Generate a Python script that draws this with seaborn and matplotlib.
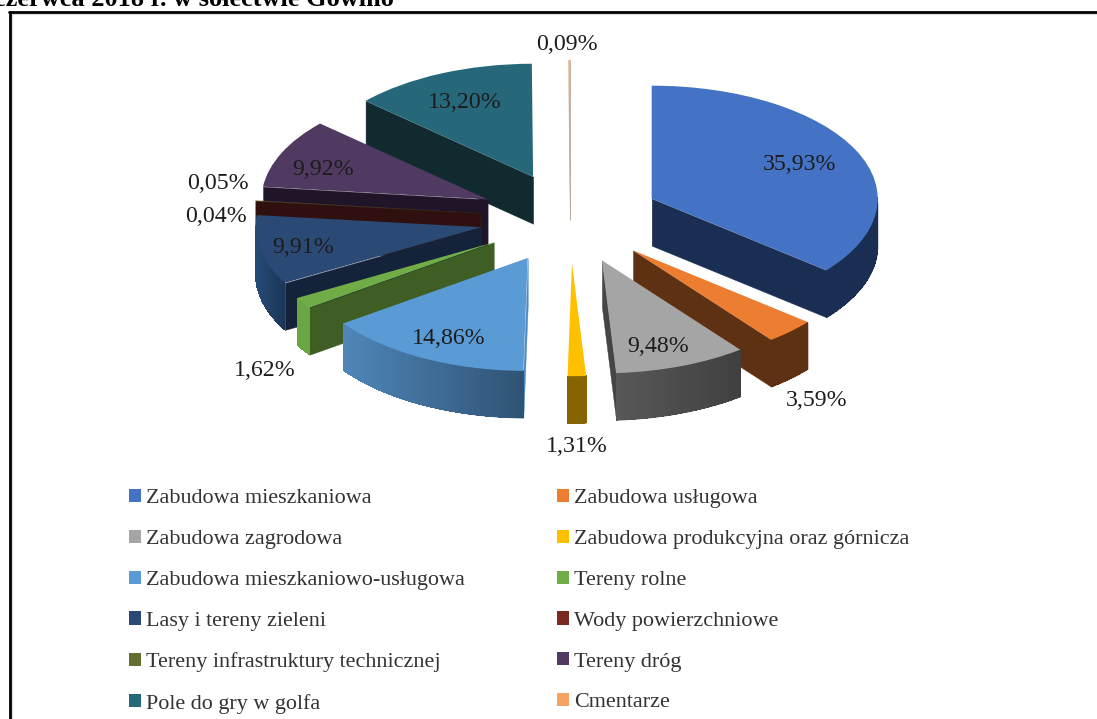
import numpy as np
import matplotlib
matplotlib.use("Agg")
import matplotlib.pyplot as plt
import seaborn as sns
from matplotlib.collections import PolyCollection
from matplotlib.colors import LinearSegmentedColormap
from matplotlib.lines import Line2D

# ---- data ----
categories = ["Zabudowa mieszkaniowa", "Zabudowa usługowa", "Zabudowa zagrodowa",
              "Zabudowa produkcyjna oraz górnicza", "Zabudowa mieszkaniowo-usługowa",
              "Tereny rolne", "Lasy i tereny zieleni", "Wody powierzchniowe",
              "Tereny infrastruktury technicznej", "Tereny dróg",
              "Pole do gry w golfa", "Cmentarze"]
values = [35.93, 3.59, 9.48, 1.31, 14.86, 1.62, 9.91, 0.04, 0.05, 9.92, 13.20, 0.09]
value_labels = ["35,93%", "3,59%", "9,48%", "1,31%", "14,86%", "1,62%",
                "9,91%", "0,04%", "0,05%", "9,92%", "13,20%", "0,09%"]
title_text = "czerwca 2018 r. w sołectwie Gowino"

# ---- styles ----
top_colors = ["#4472c4", "#ed7d31", "#a5a5a5", "#ffc000", "#5b9bd5", "#70ad47",
              "#2a4a75", "#7a2a22", "#636e2f", "#503a62", "#26687a", "#f4a460"]
cut_colors = ["#1a2d52", "#5f3113", "#454545", "#866500", "#4f8ac0", "#3e5e24",
              "#14233a", "#30100e", "#3a4218", "#1f1428", "#112a30", "#b9a596"]
rim_left = ["#1a2d52", "#5f3113", "#585858", "#866500", "#4f86b8", "#6aa643",
            "#264a78", "#30100e", "#3a4218", "#1f1428", "#112a30", "#b9a596"]
rim_right = ["#1a2d52", "#5f3113", "#404040", "#866500", "#2f5375", "#6aa643",
             "#1b3658", "#30100e", "#3a4218", "#1f1428", "#112a30", "#b9a596"]
label_px = [(800, 165), (817, 401), (658, 346), (577, 446), (449, 338), (265, 371),
            (303, 248), (216, 217), (218, 184), (323, 170), (465, 103), (567, 45)]

W, H = 1097, 719
CX, CY, RX, RY = 570, 218, 226, 113   # pie centre and radii, pixels
DEPTH = 47 / RY
SERIF = "Liberation Serif"

sns.set_theme(style="white", palette=sns.color_palette(top_colors))
plt.rcParams["font.family"] = [SERIF, "DejaVu Serif"]


def px(x, y):
    return (x - CX) / RX, (CY - y) / RY


fig = plt.figure(figsize=(W / 100, H / 100), dpi=100, facecolor="white")
ax = fig.add_axes([0, 0, 1, 1])
wedges, _ = ax.pie(values, labels=None, colors=sns.color_palette(top_colors),
                   startangle=90, counterclock=False, explode=[0.4] * len(values),
                   radius=1, wedgeprops={"linewidth": 0})
ax.set_aspect("auto")
ax.set_xlim(-CX / RX, (W - CX) / RX)
ax.set_ylim((CY - H) / RY, CY / RY)
ax.axis("off")

# painter's order: wedges further back (higher apex) first
order = sorted(range(len(wedges)), key=lambda i: -wedges[i].center[1])
for rank, i in enumerate(order):
    w = wedges[i]
    cx, cy = w.center
    t1, t2 = np.radians(w.theta1), np.radians(w.theta2)
    z = 2 + rank * 2
    p1 = (cx + np.cos(t1), cy + np.sin(t1))
    p2 = (cx + np.cos(t2), cy + np.sin(t2))
    faces = []
    if p1[0] > cx:
        faces.append(((cx, cy), p1))
    if cx > p2[0]:
        faces.append((p2, (cx, cy)))
    for a, b in faces:
        ax.add_collection(PolyCollection(
            [[a, b, (b[0], b[1] - DEPTH), (a[0], a[1] - DEPTH)]],
            facecolors=cut_colors[i], edgecolors=cut_colors[i], linewidths=0.3, zorder=z))
    # curved outer wall: a solid base with a shading along x painted over it
    th = np.linspace(t1, t2, max(3, int(np.degrees(t2 - t1)) + 2))
    th = th[np.sin(th) <= 0.02]
    if len(th) >= 2:
        cmap = LinearSegmentedColormap.from_list("rim", [rim_left[i], rim_right[i]])
        xs = cx + np.cos(th)
        ys = cy + np.sin(th)
        x0, x1 = xs.min(), xs.max()
        base = list(zip(xs, ys)) + list(zip(xs[::-1], ys[::-1] - DEPTH))
        ax.add_collection(PolyCollection([base], facecolors=[cmap(0.5)], linewidths=0,
                                         zorder=z))
        quads, cols = [], []
        for k in range(len(th) - 1):
            e = min(k + 2, len(th) - 1)
            quads.append([(xs[k], ys[k]), (xs[e], ys[e]),
                          (xs[e], ys[e] - DEPTH), (xs[k], ys[k] - DEPTH)])
            cols.append(cmap(((xs[k] + xs[k + 1]) / 2 - x0) / max(x1 - x0, 1e-6)))
        ax.add_collection(PolyCollection(quads, facecolors=cols, linewidths=0,
                                         antialiaseds=False, zorder=z))
    w.set_zorder(z + 1)

for txt, (lx, ly) in zip(value_labels, label_px):
    x, y = px(lx, ly)
    ax.text(x, y, txt, ha="center", va="center", fontsize=17.2, color="#1c1c1c",
            family=SERIF, zorder=100)

# legend: filled row by row in the reference, matplotlib fills by column
idx = list(range(0, 12, 2)) + list(range(1, 12, 2))
leg = ax.legend([wedges[i] for i in idx], [categories[i] for i in idx], ncols=2,
                loc="upper left", bbox_to_anchor=(129 / W, 1 - 489 / H),
                bbox_transform=fig.transFigure, frameon=False,
                handlelength=0.54, handleheight=0.54, handletextpad=0.22,
                columnspacing=4.2, labelspacing=0.97, borderpad=0, borderaxespad=0,
                labelcolor="#333333", prop={"family": SERIF, "size": 15.9})
leg.set_zorder(100)

# clipped caption and page frame
fig.text(394 / W, 1 - 6 / H, title_text, ha="right", va="baseline", fontsize=19,
         fontweight="bold", color="black", family=SERIF)
fig.add_artist(Line2D([11.5 / W, 11.5 / W], [0, 1 - 14 / H], color="#dddddd", lw=0.8))
fig.add_artist(Line2D([11 / W, 1], [1 - 14 / H, 1 - 14 / H], color="#dddddd", lw=0.8))
fig.add_artist(Line2D([9.5 / W, 9.5 / W], [0, 1 - 12 / H], color="black", lw=2.0))
fig.add_artist(Line2D([9 / W, 1], [1 - 12 / H, 1 - 12 / H], color="black", lw=2.0))

fig.savefig("out.png", dpi=100)
